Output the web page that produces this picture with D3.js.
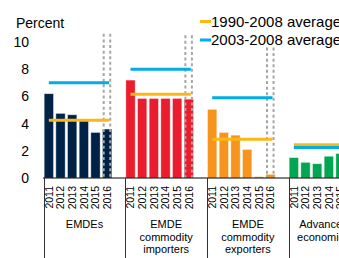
<!DOCTYPE html>
<html>
<head>
<meta charset="utf-8">
<script src="https://cdn.jsdelivr.net/npm/d3@7"></script>
<style>
  body { margin: 0; background: #fff; }
  svg { display: block; font-family: "Liberation Sans", Arial, sans-serif; }
</style>
</head>
<body>
<div id="chart"></div>
<script>
// chart data
const groups = ["EMDEs", "EMDE commodity importers", "EMDE commodity exporters", "Advanced economies"];
const groupLines = [["EMDEs"], ["EMDE", "commodity", "importers"], ["EMDE", "commodity", "exporters"], ["Advanced", "economies"]];
const years = ["2011", "2012", "2013", "2014", "2015", "2016"];
const emdes = [6.2, 4.75, 4.65, 4.2, 3.35, 3.6];
const importers = [7.2, 5.85, 5.85, 5.85, 5.85, 5.8];
const exporters = [5.05, 3.35, 3.15, 2.1, 0.1, 0.27];
const advanced = [1.5, 1.15, 1.05, 1.6, 1.8, 1.9];
const avg1990 = [4.25, 6.15, 2.85, 2.45];
const avg2003 = [7.0, 8.0, 5.9, 2.25];
const forecastTop = [10.6, 10.5, 9.6, 10.2];
const yTicks = [0, 2, 4, 6, 8, 10];
const colors = ["#002247", "#eb1c2d", "#f7941d", "#00a651"];
const series = [emdes, importers, exporters, advanced];

const width = 339, height = 258;

const svg = d3.select("#chart").append("svg")
    .attr("width", width)
    .attr("height", height);

// 7 slots per group (6 years + blank), last group has no trailing blank
const slots = [];
groups.forEach((g, gi) => {
    years.forEach(y => slots.push(gi + "-" + y));
    if (gi < groups.length - 1) slots.push(gi + "-blank");
});

const x = d3.scaleBand()
    .domain(slots)
    .range([43, 358])
    .paddingInner(0.2)
    .paddingOuter(0.1);

const y = d3.scaleLinear()
    .domain([0, 10])
    .range([178, 42]);

const step = x.step();
const groupStart = gi => x(gi + "-" + years[0]) - 0.5;
const groupEnd = gi => gi < groups.length - 1 ? groupStart(gi) + 7 * step : groupStart(gi) + 6 * step;

// y tick labels
svg.append("g").selectAll("text")
    .data(yTicks)
    .enter().append("text")
    .attr("x", 29)
    .attr("y", d => y(d))
    .attr("dy", "0.35em")
    .attr("text-anchor", "end")
    .attr("font-size", 14)
    .text(d => d);

svg.append("text")
    .attr("x", 16)
    .attr("y", 28)
    .attr("font-size", 14)
    .text("Percent");

// bars
const bars = [];
series.forEach((vals, gi) => vals.forEach((v, i) => bars.push({ g: gi, year: years[i], v: v })));

svg.append("g").selectAll("rect")
    .data(bars)
    .enter().append("rect")
    .attr("x", d => x(d.g + "-" + d.year))
    .attr("y", d => y(d.v))
    .attr("width", x.bandwidth())
    .attr("height", d => y(0) - y(d.v))
    .attr("fill", d => colors[d.g])
    .attr("stroke", "#fff")
    .attr("stroke-opacity", 0.5)
    .attr("stroke-width", 0.8);

// dotted forecast outline around 2016
const fc = svg.append("g");
forecastTop.forEach((top, gi) => {
    const bx = x(gi + "-2016");
    [bx + 1.2, bx + x.bandwidth() - 1.6].forEach(lx => {
        fc.append("line")
            .attr("x1", lx).attr("x2", lx)
            .attr("y1", y(top)).attr("y2", y(0))
            .attr("stroke", "#a6a6a6")
            .attr("stroke-width", 2)
            .attr("stroke-dasharray", "3,2.6");
    });
});

// average lines
function avgLine(vals, color) {
    svg.append("g").selectAll("line")
        .data(vals)
        .enter().append("line")
        .attr("x1", (d, gi) => x(gi + "-2011") + x.bandwidth() / 2)
        .attr("x2", (d, gi) => x(gi + "-2016") + x.bandwidth() / 2 + 2)
        .attr("y1", d => y(d))
        .attr("y2", d => y(d))
        .attr("stroke", color)
        .attr("stroke-width", 3);
}
avgLine(avg1990, "#fdb714");
avgLine(avg2003, "#00ade4");

// baseline
svg.append("line")
    .attr("x1", 43).attr("x2", width)
    .attr("y1", y(0)).attr("y2", y(0))
    .attr("stroke", "#000")
    .attr("stroke-width", 1);

// group separators
svg.append("g").selectAll("line")
    .data(groups)
    .enter().append("line")
    .attr("x1", (d, gi) => Math.round(groupStart(gi)) + 0.5)
    .attr("x2", (d, gi) => Math.round(groupStart(gi)) + 0.5)
    .attr("y1", y(0))
    .attr("y2", height)
    .attr("stroke", "#333")
    .attr("stroke-width", 1);

// year labels
svg.append("g").selectAll("text")
    .data(bars)
    .enter().append("text")
    .attr("transform", d => `translate(${x(d.g + "-" + d.year) + x.bandwidth() / 2},186) rotate(-90)`)
    .attr("dy", "0.35em")
    .attr("text-anchor", "end")
    .attr("font-size", 10.5)
    .text(d => d.year);

// group labels
groupLines.forEach((lines, gi) => {
    const cx = (groupStart(gi) + groupEnd(gi)) / 2;
    svg.append("text")
        .attr("text-anchor", "middle")
        .attr("font-size", 11)
        .selectAll("tspan")
        .data(lines)
        .enter().append("tspan")
        .attr("x", cx)
        .attr("y", (d, i) => 228 + i * 12.5)
        .text(d => d);
});

// legend
const legend = [["1990-2008 average", "#fdb714"], ["2003-2008 average", "#00ade4"]];
legend.forEach((d, i) => {
    const ly = 21.5 + i * 18.5;
    svg.append("line")
        .attr("x1", 200).attr("x2", 211)
        .attr("y1", ly).attr("y2", ly)
        .attr("stroke", d[1])
        .attr("stroke-width", 3);
    svg.append("text")
        .attr("x", 211)
        .attr("y", ly + 5.2)
        .attr("font-size", 15)
        .text(d[0]);
});
</script>
</body>
</html>
